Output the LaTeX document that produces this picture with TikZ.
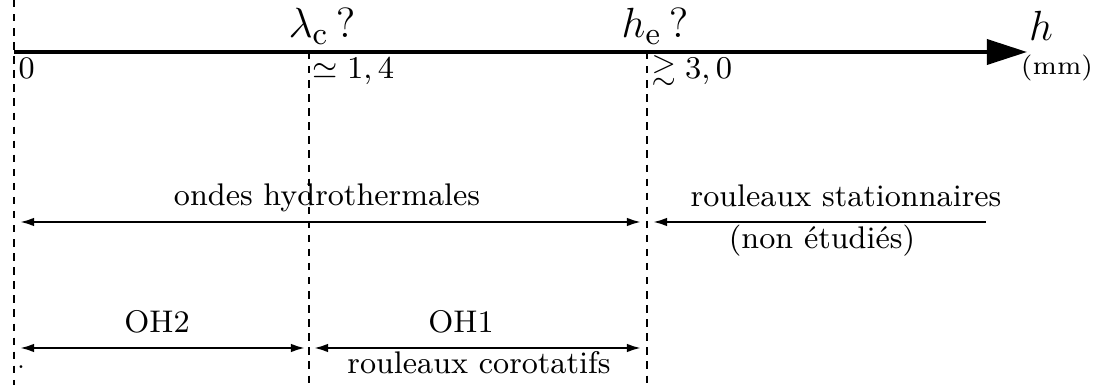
\documentclass[tikz,border=0pt]{standalone}
\usepackage{amssymb}
\usetikzlibrary{arrows.meta}
\begin{document}
\begin{tikzpicture}[x=0.01cm,y=-0.01cm,
  every node/.style={font=\fontsize{8.9}{10.7}\selectfont},
  axisline/.style={line width=1pt,-{Triangle[length=0.40cm,width=0.25cm]}},
  guide/.style={line width=0.65pt,dash pattern=on 2.1pt off 1.9pt},
  spanline/.style={line width=0.6pt},
  tipL/.style={{Latex[length=0.14cm,width=0.085cm]}-},
  tipLR/.style={{Latex[length=0.14cm,width=0.085cm]}-{Latex[length=0.14cm,width=0.085cm]}},
  big/.style={font=\fontsize{12.8}{15}\selectfont,inner sep=0pt,anchor=base},
  lab/.style={inner sep=0pt}]
\useasboundingbox (0,0) rectangle (1096,385);
% axis and guides
\coordinate (A0) at (14,52);
\coordinate (A1) at (309,52);
\coordinate (A2) at (647,52);
\coordinate (Aend) at (1027,52);
\coordinate (T0) at (14,0);
\coordinate (B0) at (14,385);
\coordinate (B1) at (309,385);
\coordinate (B2) at (647,385);
\draw[guide] (T0) -- (B0);
\draw[guide] (A1) -- (B1);
\draw[guide] (A2) -- (B2);
\draw[axisline] (A0) -- (Aend);
% axis labels
\node[big] (lc) at (322,38) {$\lambda_{\mathrm{c}}\,?$};
\node[big] (he) at (655,38) {$h_{\mathrm{e}}\,?$};
\node[big] (h) at (1041,41) {$h$};
\node[lab,font=\fontsize{7.4}{9}\selectfont] (mm) at (1057,68) {(mm)};
\node[lab,anchor=base west] (v0) at (18,79) {0};
\node[lab,anchor=base west] (v1) at (312,79) {$\simeq 1,4$};
\node[lab,anchor=base west] (v2) at (651,79) {$\gtrsim 3,0$};
% ranges
\coordinate (oL) at (20,222);
\coordinate (oR) at (641,222);
\coordinate (sL) at (653,222);
\coordinate (sR) at (986,222);
\draw[spanline,tipLR] (oL) -- (oR);
\draw[spanline,tipL] (sL) -- (sR);
\node[lab,anchor=base] (ondes) at (327,206) {ondes hydrothermales};
\node[lab,anchor=base] (stat) at (846,207) {rouleaux stationnaires};
\node[lab] (nonet) at (822,241) {(non étudiés)};
\coordinate (p2L) at (20,348);
\coordinate (p2R) at (305,348);
\coordinate (p1L) at (314,348);
\coordinate (p1R) at (641,348);
\draw[spanline,tipLR] (p2L) -- (p2R);
\draw[spanline,tipLR] (p1L) -- (p1R);
\node[lab,anchor=base] (oh2) at (157,333) {OH2};
\node[lab,anchor=base] (oh1) at (461,333) {OH1};
\node[lab,anchor=base] (coro) at (479,374) {rouleaux corotatifs};
\node[lab,font=\scriptsize,anchor=base] (dot) at (21,369) {.};
\end{tikzpicture}
\end{document}
